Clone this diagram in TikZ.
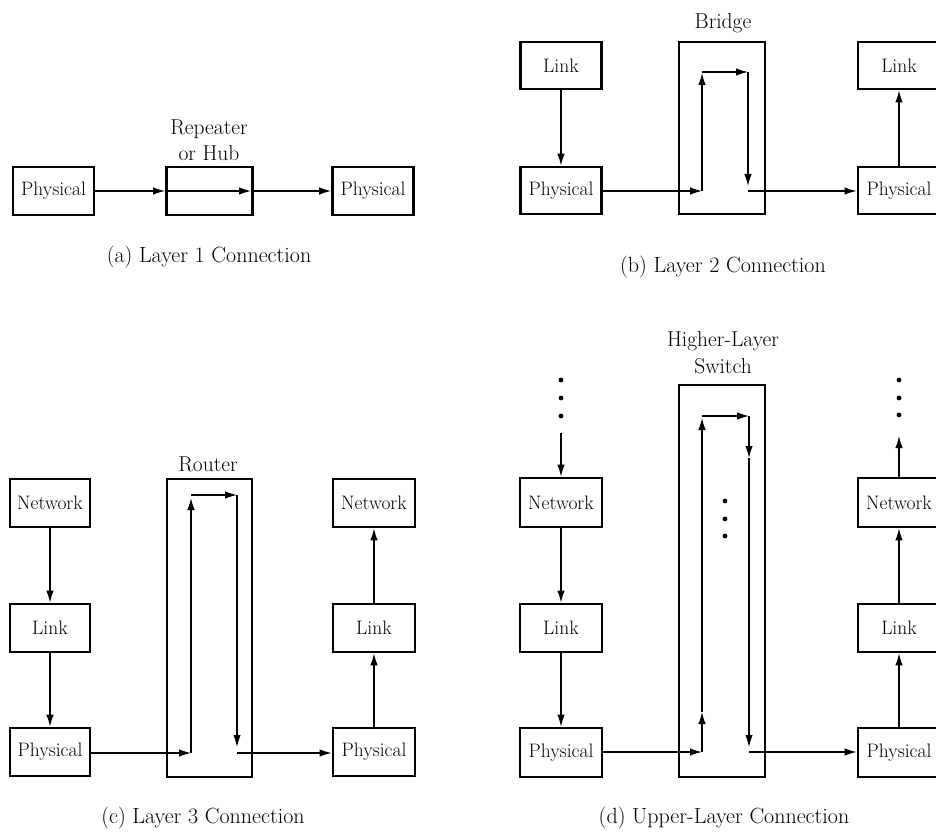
\documentclass[tikz,border=0pt]{standalone}
\usepackage{fontspec}
\usetikzlibrary{arrows.meta}
\begin{document}
\begin{tikzpicture}[x=1pt,y=-1pt,
  every node/.style={font=\fontsize{19.5}{22}\selectfont, inner sep=0pt},
  layerbox/.style={draw, line width=2.7pt, minimum width=81pt, minimum height=48pt},
  devbox/.style={draw, line width=2.7pt, minimum width=86pt},
  flow/.style={line width=1.3pt, -{Latex[length=12pt,width=7.5pt]}},
  caption/.style={font=\fontsize{22}{26}\selectfont},
  devlabel/.style={align=center, font=\fontsize{21.5}{26}\selectfont},
  dot/.style={circle, fill, minimum size=4.8pt}]
\useasboundingbox (0,0) rectangle (936,837);
\clip (0,0) rectangle (936,837);

% ---------- (a) Layer 1 ----------
\node[layerbox] (pa1) at (53.5,191) {Physical};
\node[devbox, minimum height=48pt] (ra) at (209.5,191) {};
\node[layerbox] (pa2) at (373,191) {Physical};
\node[devlabel] (rlab) at (209,140) {Repeater\\or Hub};
\node[caption] (capa) at (209,257) {(a) Layer 1 Connection};
\coordinate (ramid) at (251,191);
\draw[flow] (pa1.east) -- (ra.west);
\draw[flow] (ra.west) -- (ramid);
\draw[flow] (ramid) -- (pa2.west);

% ---------- (b) Layer 2 ----------
\node[layerbox, minimum height=47pt] (lb1) at (561,65.5) {Link};
\node[layerbox, minimum height=47pt] (pb1) at (561,190.5) {Physical};
\node[devbox, minimum height=172pt] (br) at (722,128) {};
\node[layerbox, minimum height=47pt, minimum width=82pt] (lb2) at (899,65.5) {Link};
\node[layerbox, minimum height=47pt, minimum width=82pt] (pb2) at (899,190.5) {Physical};
\node[devlabel] (blab) at (723,23) {Bridge};
\node[caption] (capb) at (723,267) {(b) Layer 2 Connection};
\coordinate (b1) at (702,191);
\coordinate (b2) at (702,73);
\coordinate (b3) at (702,72);
\coordinate (b4) at (748,72);
\coordinate (b5) at (748,186);
\coordinate (b6) at (748,191);
\draw[flow] (lb1.south) -- (pb1.north);
\draw[flow] (pb1.east |- b1) -- (b1);
\draw[flow] (b1) -- (b2);
\draw[flow] (b3) -- (b4);
\draw[flow] (b4) -- (b5);
\draw[flow] (b6) -- (pb2.west |- b6);
\draw[flow] (pb2.north) -- (lb2.south);

% ---------- (c) Layer 3 ----------
\node[layerbox, minimum width=80pt] (nc1) at (50,503) {Network};
\node[layerbox, minimum width=80pt] (lc1) at (50,628) {Link};
\node[layerbox, minimum width=80pt] (pc1) at (50,752) {Physical};
\node[devbox, minimum width=85pt, minimum height=298pt] (rt) at (209.5,628) {};
\node[layerbox, minimum width=82pt] (nc2) at (374,503) {Network};
\node[layerbox, minimum width=82pt] (lc2) at (374,628) {Link};
\node[layerbox, minimum width=82pt] (pc2) at (374,752) {Physical};
\node[devlabel] (rtlab) at (208,464) {Router};
\node[caption] (capc) at (203,818) {(c) Layer 3 Connection};
\coordinate (c1) at (191,753);
\coordinate (c2) at (191,498);
\coordinate (c3) at (191,495);
\coordinate (c4) at (237,495);
\coordinate (c5) at (237,747);
\coordinate (c6) at (237,753);
\draw[flow] (nc1.south) -- (lc1.north);
\draw[flow] (lc1.south) -- (pc1.north);
\draw[flow] (pc1.east |- c1) -- (c1);
\draw[flow] (c1) -- (c2);
\draw[flow] (c3) -- (c4);
\draw[flow] (c4) -- (c5);
\draw[flow] (c6) -- (pc2.west |- c6);
\draw[flow] (pc2.north) -- (lc2.south);
\draw[flow] (lc2.north) -- (nc2.south);

% ---------- (d) Upper layer ----------
\node[dot] (dl1) at (561,380) {};
\node[dot] (dl2) at (561,398) {};
\node[dot] (dl3) at (561,416) {};
\coordinate (dltop) at (561,433);
\node[layerbox, minimum width=82pt, minimum height=49pt] (nd1) at (561,502.5) {Network};
\node[layerbox, minimum width=82pt] (ld1) at (561,628) {Link};
\node[layerbox, minimum width=82pt, minimum height=49pt] (pd1) at (561,752.5) {Physical};
\node[devbox, minimum height=392pt] (sw) at (722,581) {};
\node[layerbox, minimum width=82pt, minimum height=49pt] (nd2) at (899,502.5) {Network};
\node[layerbox, minimum width=82pt] (ld2) at (899,628) {Link};
\node[layerbox, minimum width=82pt, minimum height=49pt] (pd2) at (899,752.5) {Physical};
\node[dot] (dr1) at (899,380) {};
\node[dot] (dr2) at (899,398) {};
\node[dot] (dr3) at (899,415) {};
\coordinate (drbot) at (899,436);
\node[devlabel, font=\fontsize{21.5}{27}\selectfont] (swlab) at (723,353) {Higher-Layer\\Switch};
\node[dot] (dm1) at (725,501) {};
\node[dot] (dm2) at (725,519) {};
\node[dot] (dm3) at (725,536) {};
\node[caption] (capd) at (724,818) {(d) Upper-Layer Connection};
\coordinate (d1) at (702,752);
\coordinate (d1m) at (702,712);
\coordinate (d2) at (702,418);
\coordinate (d3) at (702,416);
\coordinate (d4) at (749,416);
\coordinate (d4m) at (749,458);
\coordinate (d5) at (749,747);
\coordinate (d6) at (749,752);
\draw[flow] (dltop) -- (nd1.north);
\draw[flow] (nd1.south) -- (ld1.north);
\draw[flow] (ld1.south) -- (pd1.north);
\draw[flow] (pd1.east |- d1) -- (d1);
\draw[flow] (d1) -- (d1m);
\draw[flow] (d1m) -- (d2);
\draw[flow] (d3) -- (d4);
\draw[flow] (d4) -- (d4m);
\draw[flow] (d4m) -- (d5);
\draw[flow] (d6) -- (pd2.west |- d6);
\draw[flow] (pd2.north) -- (ld2.south);
\draw[flow] (ld2.north) -- (nd2.south);
\draw[flow] (nd2.north) -- (drbot);
\end{tikzpicture}
\end{document}
